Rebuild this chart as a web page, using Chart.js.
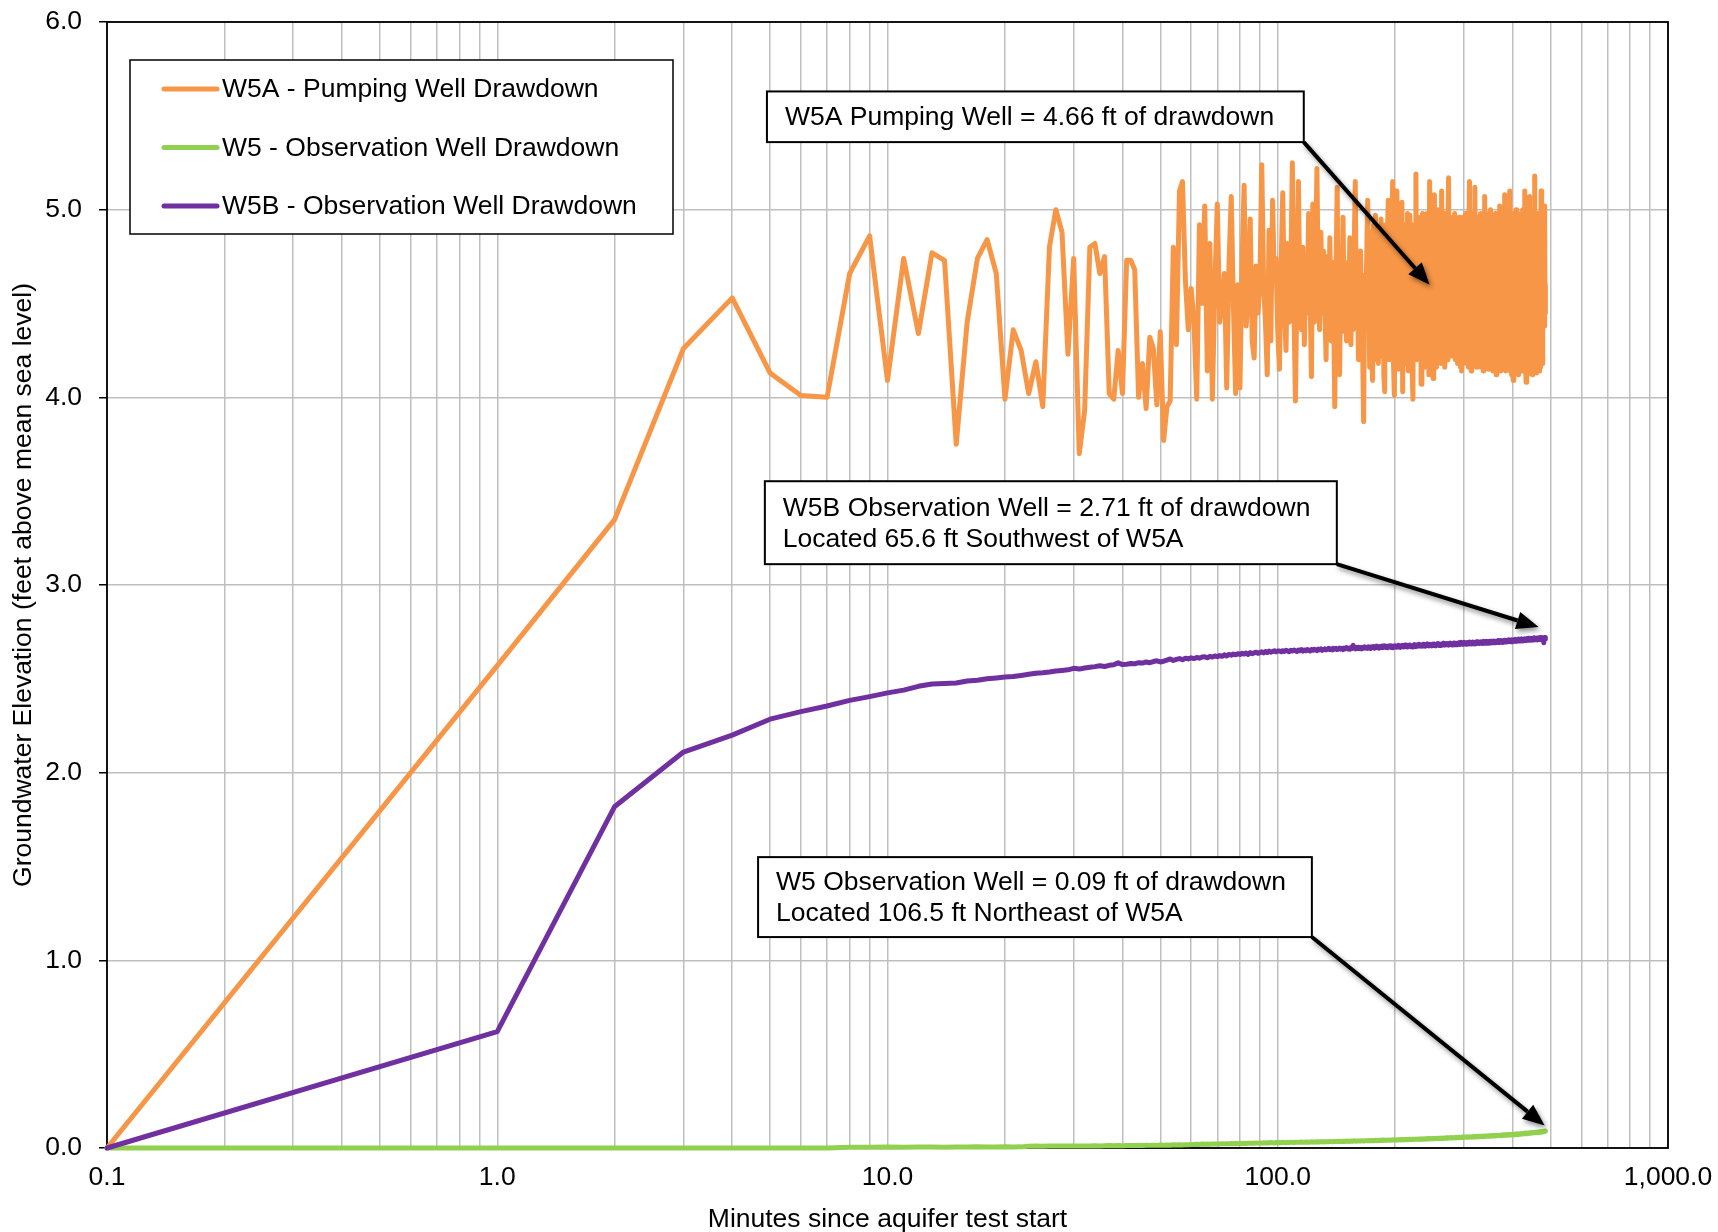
<!DOCTYPE html>
<html><head><meta charset="utf-8">
<script src="https://cdn.jsdelivr.net/npm/chart.js@4.4.1/dist/chart.umd.min.js"></script>
<style>html,body{margin:0;padding:0;background:#fff;}#wrap{width:1718px;height:1232px;}</style>
</head><body><div id="wrap"><canvas id="c" width="1718" height="1232"></canvas></div>
<script>
// Sample times (minutes since aquifer test start)
const minutes = [0.1,
1,2,3,4,5,6,7,8,9,10,11,12,13,14,15,16,17,18,19,20,
21,22,23,24,25,26,27,28,29,30,31,32,33,34,35,36,37,38,39,40,
41,42,43,44,45,46,47,48,49,50,51,52,53,54,55,56,57,58,59,60,
61,62,63,64,65,66,67,68,69,70,71,72,73,74,75,76,77,78,79,80,
81,82,83,84,85,86,87,88,89,90,91,92,93,94,95,96,97,98,99,100,
101,102,103,104,105,106,107,108,109,110,111,112,113,114,115,116,117,118,119,120,
121,122,123,124,125,126,127,128,129,130,131,132,133,134,135,136,137,138,139,140,
141,142,143,144,145,146,147,148,149,150,151,152,153,154,155,156,157,158,159,160,
161,162,163,164,165,166,167,168,169,170,171,172,173,174,175,176,177,178,179,180,
181,182,183,184,185,186,187,188,189,190,191,192,193,194,195,196,197,198,199,200,
201,202,203,204,205,206,207,208,209,210,211,212,213,214,215,216,217,218,219,220,
221,222,223,224,225,226,227,228,229,230,231,232,233,234,235,236,237,238,239,240,
241,242,243,244,245,246,247,248,249,250,251,252,253,254,255,256,257,258,259,260,
261,262,263,264,265,266,267,268,269,270,271,272,273,274,275,276,277,278,279,280,
281,282,283,284,285,286,287,288,289,290,291,292,293,294,295,296,297,298,299,300,
301,302,303,304,305,306,307,308,309,310,311,312,313,314,315,316,317,318,319,320,
321,322,323,324,325,326,327,328,329,330,331,332,333,334,335,336,337,338,339,340,
341,342,343,344,345,346,347,348,349,350,351,352,353,354,355,356,357,358,359,360,
361,362,363,364,365,366,367,368,369,370,371,372,373,374,375,376,377,378,379,380,
381,382,383,384,385,386,387,388,389,390,391,392,393,394,395,396,397,398,399,400,
401,402,403,404,405,406,407,408,409,410,411,412,413,414,415,416,417,418,419,420,
421,422,423,424,425,426,427,428,429,430,431,432,433,434,435,436,437,438,439,440,
441,442,443,444,445,446,447,448,449,450,451,452,453,454,455,456,457,458,459,460,
461,462,463,464,465,466,467,468,469,470,471,472,473,474,475,476,477,478,479,480,
481,482,483,484,485];

// W5A - Pumping Well
const w5aDrawdown = [0,
2.57,3.35,4.26,4.53,4.13,4.01,4.00,4.66,4.86,4.09,
4.74,4.34,4.77,4.73,3.75,4.40,4.74,4.84,4.66,3.99,
4.36,4.25,4.02,4.19,3.95,4.80,5.00,4.88,4.23,4.74,
3.70,3.93,4.80,4.82,4.66,4.75,4.02,3.99,4.25,4.02,
4.73,4.73,4.68,4.00,4.18,3.94,4.32,4.26,3.96,4.35,
3.77,3.95,3.98,4.80,4.28,5.10,5.15,4.62,4.36,4.58,
4.40,3.99,4.92,4.50,5.02,4.14,4.82,3.99,4.60,5.03,
4.40,4.52,4.66,4.05,4.71,5.07,4.48,4.02,4.60,4.05,
4.72,5.13,4.38,4.55,4.95,4.30,4.21,4.70,4.45,4.62,
5.24,4.60,4.40,4.12,4.89,4.30,5.05,4.62,4.74,4.35,
4.15,4.70,5.09,4.48,4.25,4.82,4.40,4.66,5.25,4.50,
3.98,4.60,5.15,4.45,4.36,4.80,4.28,4.70,4.45,4.98,
4.55,4.11,5.03,4.40,4.70,5.22,4.58,4.36,4.88,4.45,
4.78,4.50,4.20,4.75,4.38,4.85,4.30,4.72,4.50,3.95,
4.66,5.12,4.40,4.12,4.60,4.35,4.96,4.42,4.72,4.30,
4.65,4.40,4.85,4.28,4.70,4.36,4.80,5.15,4.45,4.62,
4.20,4.30,4.78,4.48,4.25,3.87,4.65,4.40,4.74,5.05,
4.70,4.16,4.88,4.25,4.09,4.92,4.30,4.97,4.20,4.82,
4.18,4.90,4.22,4.95,4.28,4.85,4.12,4.03,4.92,4.26,
4.88,5.05,4.20,4.94,4.30,4.86,5.15,4.18,4.01,4.96,
5.10,4.22,4.90,4.15,4.86,4.28,4.95,5.04,4.03,4.84,
4.92,4.18,4.88,4.25,4.98,4.14,4.90,4.97,4.22,4.84,
4.15,3.99,4.92,4.26,4.86,5.19,4.20,4.94,4.30,4.88,
4.20,4.96,4.07,4.85,4.98,4.24,4.90,4.16,4.94,4.28,
4.98,4.20,4.88,4.12,5.15,4.26,4.92,4.18,4.96,4.10,
4.86,5.08,4.22,4.94,4.16,4.88,5.00,4.24,4.92,4.21,
4.96,4.18,5.10,4.22,4.90,4.28,4.98,4.16,4.88,4.30,
4.96,4.20,4.92,5.17,4.26,4.33,4.94,4.22,4.90,4.28,
4.96,4.24,4.88,4.98,4.20,4.92,4.26,4.94,4.18,4.90,
4.22,4.96,4.28,4.16,4.92,4.14,4.88,4.24,4.96,4.20,
4.90,4.26,4.98,4.18,4.92,4.22,4.94,4.16,4.88,5.15,
4.24,4.94,4.14,4.90,4.20,4.98,4.18,4.92,4.26,5.12,
4.20,4.94,4.16,4.96,4.22,4.19,4.92,4.18,4.90,4.24,
4.98,4.16,4.92,4.20,4.96,4.14,4.90,4.22,5.07,4.18,
4.94,4.20,4.98,4.16,4.90,4.15,4.96,4.22,4.92,4.18,
5.00,4.16,4.92,4.24,4.96,4.14,4.90,4.20,4.94,4.18,
4.98,4.22,4.12,4.94,4.18,4.98,4.16,4.92,4.22,5.02,
4.18,4.94,4.14,4.96,4.20,4.92,4.16,4.98,4.22,4.90,
5.08,4.18,4.94,4.14,4.92,4.20,4.98,4.16,4.94,4.22,
5.00,4.18,5.10,4.14,4.92,4.20,4.96,4.12,4.90,4.18,
4.09,4.94,4.20,4.98,4.16,4.92,4.22,5.00,4.14,4.90,
4.18,4.98,4.16,4.92,4.12,4.96,4.20,4.90,4.16,4.98,
4.18,4.92,4.14,5.00,4.20,4.94,4.16,4.96,5.10,4.18,
4.94,4.14,4.08,4.98,4.20,4.92,4.12,4.96,4.18,4.94,
4.16,5.07,4.20,4.92,4.14,4.98,4.18,4.90,4.12,4.96,
4.20,4.94,4.16,4.98,5.18,4.18,4.92,4.14,4.96,4.13,
4.94,4.18,4.98,4.16,4.92,4.20,4.96,4.14,4.94,4.20,
4.98,4.16,5.10,4.22,4.92,4.18,4.96,4.37,4.98,4.40,
4.90,4.38,5.02,4.45,4.60];

// W5 - Observation Well
const w5Drawdown = [0,
0,0,0,0,0,0,0,
0.004,0.004,0.005,0.004,0.005,0.005,0.004,0.005,0.005,0.006,0.005,0.005,0.006,0.005,0.006,
0.009,0.01,0.009,0.01,0.01,0.011,0.01,0.011,0.01,0.011,0.011,0.012,0.011,0.012,0.013,0.012,0.013,0.012,
0.013,0.014,0.013,0.014,0.013,0.015,0.014,0.015,0.014,0.016,0.015,0.016,0.015,0.017,0.016,0.017,0.016,0.018,0.017,0.018,
0.019,0.02,0.019,0.021,0.02,0.021,0.02,0.022,0.021,0.022,0.021,0.023,0.022,0.023,0.022,0.024,0.023,0.024,0.023,0.025,
0.024,0.025,0.024,0.026,0.025,0.026,0.025,0.027,0.026,0.027,0.026,0.028,0.027,0.028,0.027,0.029,0.028,0.027,0.029,0.028,
0.029,0.028,0.03,0.029,0.028,0.03,0.029,0.031,0.03,0.029,0.031,0.03,0.031,0.03,0.032,0.031,0.03,0.032,0.031,0.032,
0.031,0.033,0.032,0.031,0.033,0.032,0.033,0.032,0.034,0.033,0.032,0.034,0.033,0.034,0.033,0.035,0.034,0.033,0.035,0.034,
0.035,0.034,0.036,0.035,0.034,0.036,0.035,0.036,0.035,0.037,0.036,0.035,0.037,0.036,0.037,0.036,0.038,0.037,0.036,0.038,
0.037,0.038,0.037,0.039,0.038,0.037,0.039,0.038,0.039,0.038,0.04,0.039,0.038,0.04,0.039,0.04,0.039,0.041,0.04,0.039,
0.041,0.04,0.041,0.04,0.042,0.041,0.04,0.042,0.041,0.042,0.041,0.043,0.042,0.041,0.043,0.042,0.043,0.042,0.044,0.042,
0.043,0.042,0.044,0.043,0.044,0.043,0.045,0.044,0.043,0.045,0.044,0.045,0.044,0.046,0.045,0.044,0.046,0.045,0.046,0.045,
0.047,0.046,0.045,0.047,0.046,0.047,0.046,0.048,0.047,0.046,0.048,0.047,0.048,0.047,0.049,0.048,0.047,0.049,0.048,0.049,
0.048,0.05,0.049,0.048,0.05,0.049,0.05,0.049,0.051,0.05,0.049,0.051,0.05,0.051,0.05,0.052,0.051,0.05,0.052,0.051,
0.052,0.051,0.053,0.052,0.051,0.053,0.052,0.053,0.052,0.054,0.053,0.052,0.054,0.053,0.054,0.053,0.055,0.054,0.053,0.055,
0.054,0.055,0.054,0.056,0.055,0.054,0.056,0.055,0.056,0.055,0.057,0.056,0.055,0.057,0.056,0.057,0.056,0.058,0.057,0.056,
0.058,0.057,0.058,0.057,0.059,0.058,0.057,0.059,0.058,0.059,0.058,0.06,0.059,0.058,0.06,0.059,0.06,0.059,0.061,0.06,
0.059,0.061,0.06,0.061,0.06,0.062,0.061,0.06,0.062,0.061,0.062,0.061,0.063,0.062,0.061,0.063,0.062,0.063,0.062,0.064,
0.063,0.062,0.064,0.063,0.064,0.063,0.065,0.064,0.063,0.065,0.064,0.065,0.064,0.066,0.065,0.064,0.066,0.065,0.066,0.065,
0.067,0.066,0.065,0.067,0.066,0.067,0.066,0.068,0.067,0.066,0.068,0.067,0.068,0.067,0.069,0.068,0.067,0.069,0.068,0.069,
0.068,0.07,0.069,0.068,0.07,0.069,0.07,0.069,0.071,0.07,0.069,0.071,0.07,0.071,0.07,0.072,0.071,0.07,0.072,0.071,
0.072,0.071,0.073,0.072,0.071,0.073,0.072,0.074,0.073,0.072,0.074,0.073,0.075,0.074,0.073,0.075,0.074,0.076,0.075,0.074,
0.076,0.075,0.077,0.076,0.075,0.077,0.076,0.078,0.077,0.076,0.078,0.077,0.079,0.078,0.077,0.079,0.078,0.08,0.079,0.078,
0.08,0.079,0.081,0.08,0.079,0.081,0.08,0.082,0.081,0.08,0.082,0.081,0.083,0.082,0.081,0.083,0.082,0.084,0.083,0.082,
0.084,0.083,0.085,0.084,0.083,0.085,0.084,0.086,0.085,0.084,0.086,0.085,0.087,0.086,0.085,0.087,0.086,0.088,0.087,0.088,
0.089,0.088,0.09,0.089,0.09];

// W5B - Observation Well
const w5bDrawdown = [0,
0.62,1.82,2.11,2.20,2.285,2.325,2.355,2.385,2.405,2.425,
2.44,2.46,2.472,2.475,2.478,2.488,2.492,2.50,2.505,2.51,
2.512,2.518,2.524,2.53,2.532,2.536,2.542,2.545,2.548,2.556,
2.552,2.558,2.562,2.565,2.57,2.566,2.572,2.575,2.585,2.576,
2.578,2.582,2.58,2.586,2.584,2.59,2.586,2.592,2.596,2.59,
2.594,2.60,2.606,2.598,2.604,2.608,2.602,2.61,2.606,2.612,
2.608,2.614,2.61,2.616,2.618,2.612,2.62,2.616,2.622,2.618,
2.624,2.62,2.628,2.622,2.63,2.626,2.632,2.628,2.634,2.63,
2.636,2.632,2.638,2.63,2.64,2.634,2.638,2.642,2.636,2.64,
2.644,2.638,2.646,2.64,2.648,2.642,2.646,2.65,2.644,2.648,
2.648,2.644,2.65,2.646,2.652,2.648,2.644,2.652,2.648,2.654,
2.65,2.646,2.654,2.65,2.656,2.648,2.654,2.65,2.656,2.652,
2.648,2.656,2.652,2.658,2.654,2.65,2.658,2.654,2.66,2.652,
2.656,2.66,2.654,2.658,2.662,2.656,2.66,2.654,2.662,2.658,
2.662,2.656,2.66,2.664,2.658,2.662,2.656,2.664,2.66,2.666,
2.66,2.664,2.658,2.666,2.662,2.678,2.664,2.66,2.666,2.662,
2.668,2.662,2.666,2.66,2.668,2.664,2.67,2.664,2.668,2.662,
2.67,2.666,2.662,2.67,2.666,2.672,2.664,2.668,2.674,2.666,
2.67,2.664,2.672,2.668,2.674,2.666,2.67,2.676,2.668,2.672,
2.666,2.674,2.67,2.676,2.668,2.672,2.666,2.674,2.67,2.676,
2.668,2.674,2.67,2.678,2.672,2.668,2.676,2.672,2.678,2.67,
2.674,2.68,2.672,2.676,2.67,2.678,2.674,2.68,2.672,2.676,
2.67,2.678,2.674,2.682,2.676,2.672,2.68,2.674,2.678,2.684,
2.676,2.68,2.674,2.682,2.678,2.684,2.676,2.68,2.674,2.682,
2.678,2.686,2.68,2.676,2.684,2.678,2.682,2.676,2.684,2.68,
2.686,2.678,2.682,2.676,2.684,2.68,2.688,2.682,2.678,2.686,
2.68,2.684,2.678,2.686,2.682,2.69,2.684,2.68,2.686,2.682,
2.688,2.682,2.686,2.68,2.688,2.684,2.69,2.682,2.686,2.68,
2.688,2.684,2.69,2.686,2.682,2.69,2.684,2.688,2.682,2.69,
2.686,2.692,2.684,2.688,2.694,2.686,2.69,2.684,2.692,2.688,
2.694,2.686,2.69,2.684,2.692,2.688,2.694,2.686,2.69,2.696,
2.688,2.692,2.686,2.694,2.69,2.696,2.688,2.692,2.686,2.694,
2.69,2.696,2.688,2.692,2.698,2.69,2.694,2.688,2.696,2.692,
2.698,2.69,2.694,2.688,2.696,2.692,2.7,2.692,2.696,2.69,
2.698,2.694,2.7,2.692,2.696,2.69,2.698,2.694,2.7,2.696,
2.692,2.7,2.694,2.698,2.692,2.7,2.696,2.702,2.694,2.698,
2.692,2.7,2.696,2.702,2.694,2.698,2.704,2.696,2.7,2.694,
2.702,2.698,2.704,2.696,2.7,2.694,2.702,2.698,2.704,2.696,
2.7,2.706,2.698,2.702,2.696,2.704,2.7,2.706,2.698,2.702,
2.708,2.7,2.704,2.698,2.706,2.702,2.708,2.7,2.704,2.698,
2.706,2.702,2.708,2.7,2.704,2.71,2.702,2.706,2.7,2.708,
2.704,2.71,2.702,2.706,2.712,2.704,2.708,2.702,2.71,2.706,
2.712,2.704,2.708,2.702,2.71,2.706,2.712,2.704,2.708,2.714,
2.706,2.71,2.704,2.712,2.708,2.714,2.706,2.71,2.716,2.708,
2.712,2.706,2.714,2.71,2.716,2.708,2.712,2.706,2.714,2.71,
2.716,2.708,2.712,2.718,2.71,2.714,2.708,2.716,2.712,2.718,
2.71,2.714,2.708,2.716,2.712,2.718,2.71,2.714,2.72,2.712,
2.716,2.71,2.718,2.714,2.72,2.712,2.716,2.71,2.718,2.692,
2.712,2.718,2.714,2.72,2.712];

const seriesLabels = ['W5A - Pumping Well Drawdown','W5 - Observation Well Drawdown','W5B - Observation Well Drawdown'];
const seriesColors = ['#F79646','#92D050','#7030A0'];

const xGridValues = [0.1,0.2,0.3,0.4,0.5,0.6,0.7,0.8,0.9,1,2,3,4,5,6,7,8,9,10,20,30,40,50,60,70,80,90,100,200,300,400,500,600,700,800,900,1000];
const xTickValues = [0.1,1,10,100,1000];
const xTickLabels = ['0.1','1.0','10.0','100.0','1,000.0'];
const yTickLabels = ['0.0','1.0','2.0','3.0','4.0','5.0','6.0'];

const xAxisTitle = 'Minutes since aquifer test start';
const yAxisTitle = 'Groundwater Elevation (feet above mean sea level)';

const calloutNotes = [
  {lines:['W5A Pumping Well = 4.66 ft of drawdown'], left:4.91, right:116.6, top:5.63, bottom:5.36, tipX:245, tipY:4.60},
  {lines:['W5B Observation Well = 2.71 ft of drawdown','Located 65.6 ft Southwest of W5A'], left:4.85, right:141.7, top:3.553, bottom:3.111, tipX:466, tipY:2.776},
  {lines:['W5 Observation Well = 0.09 ft of drawdown','Located 106.5 ft Northeast of W5A'], left:4.66, right:122.3, top:1.55, bottom:1.124, tipX:483, tipY:0.12}
];

const FONT_FAMILY = '"Liberation Sans", Arial, Helvetica, sans-serif';
const FONT_SIZE = 26.5;

function toPoints(arr){
  return minutes.map((m,i)=>({x:m, y:arr[i]})).filter(p=>p.y!==undefined);
}

const framePlugin = {
  id:'frame',
  beforeDatasetsDraw(chart){
    const {ctx, chartArea:a} = chart;
    ctx.save();
    ctx.strokeStyle = '#000';
    ctx.lineWidth = 1.8;
    ctx.strokeRect(a.left, a.top, a.right-a.left, a.bottom-a.top);
    ctx.restore();
  }
};

const legendPlugin = {
  id:'boxLegend',
  afterDatasetsDraw(chart){
    const {ctx, chartArea:a} = chart;
    const x = a.left + 23, y = a.top + 38, w = 543, h = 174;
    ctx.save();
    ctx.fillStyle = '#fff'; ctx.fillRect(x,y,w,h);
    ctx.strokeStyle = '#000'; ctx.lineWidth = 1.5; ctx.strokeRect(x,y,w,h);
    ctx.font = FONT_SIZE + 'px ' + FONT_FAMILY;
    ctx.textBaseline = 'middle';
    chart.data.datasets.forEach((ds,i)=>{
      const cy = y + 29 + i*58.5;
      ctx.strokeStyle = ds.borderColor; ctx.lineWidth = 5; ctx.lineCap = 'round';
      ctx.beginPath(); ctx.moveTo(x+34, cy); ctx.lineTo(x+87, cy); ctx.stroke();
      ctx.fillStyle = '#000';
      ctx.fillText(ds.label, x+92, cy+1);
    });
    ctx.restore();
  }
};

const calloutPlugin = {
  id:'callouts',
  afterDraw(chart){
    const {ctx} = chart;
    const xs = chart.scales.x, ys = chart.scales.y;
    calloutNotes.forEach(n=>{
      const l = xs.getPixelForValue(n.left), r = xs.getPixelForValue(n.right);
      const t = ys.getPixelForValue(n.top), b = ys.getPixelForValue(n.bottom);
      ctx.save();
      ctx.fillStyle = '#fff'; ctx.fillRect(l,t,r-l,b-t);
      ctx.strokeStyle = '#000'; ctx.lineWidth = 2; ctx.strokeRect(l,t,r-l,b-t);
      ctx.font = FONT_SIZE + 'px ' + FONT_FAMILY;
      ctx.fillStyle = '#000'; ctx.textBaseline = 'middle';
      const cy = (t+b)/2, gap = 31;
      n.lines.forEach((line,i)=>{
        const yy = cy + (i - (n.lines.length-1)/2)*gap;
        ctx.fillText(line, l+18, yy+1);
      });
      // arrow
      const tx = xs.getPixelForValue(n.tipX), ty = ys.getPixelForValue(n.tipY);
      const dx = tx - r, dy = ty - b, len = Math.hypot(dx,dy);
      const ux = dx/len, uy = dy/len;
      const head = 22, hw = 9;
      const bx = tx - ux*head, by = ty - uy*head;
      ctx.shadowColor = 'rgba(0,0,0,0.45)';
      ctx.shadowBlur = 5; ctx.shadowOffsetX = 2; ctx.shadowOffsetY = 3;
      ctx.strokeStyle = '#000'; ctx.lineWidth = 4; ctx.lineCap = 'butt';
      ctx.beginPath(); ctx.moveTo(r,b); ctx.lineTo(bx,by); ctx.stroke();
      ctx.fillStyle = '#000';
      ctx.beginPath();
      ctx.moveTo(tx,ty);
      ctx.lineTo(bx - uy*hw, by + ux*hw);
      ctx.lineTo(bx + uy*hw, by - ux*hw);
      ctx.closePath(); ctx.fill();
      ctx.restore();
    });
  }
};

const allSeries = [w5aDrawdown, w5Drawdown, w5bDrawdown];
const drawOrder = [3, 2, 1];

new Chart(document.getElementById('c'), {
  type:'line',
  data:{
    datasets: allSeries.map((arr,i)=>({
      label: seriesLabels[i],
      data: toPoints(arr),
      borderColor: seriesColors[i],
      backgroundColor: seriesColors[i],
      borderWidth: 5,
      pointRadius: 0,
      tension: 0,
      fill: false,
      clip: false,
      borderJoinStyle: 'round',
      borderCapStyle: 'round',
      order: drawOrder[i]
    }))
  },
  options:{
    responsive:false,
    animation:false,
    devicePixelRatio:1,
    layout:{padding:{top:22,right:50,left:0,bottom:0}},
    plugins:{legend:{display:false}, tooltip:{enabled:false}},
    scales:{
      x:{
        type:'logarithmic', min:0.1, max:1000,
        afterBuildTicks(scale){ scale.ticks = xGridValues.map(v=>({value:v})); },
        afterFit(scale){ scale.height = 84; scale.paddingLeft = 0; scale.paddingRight = 0; },
        border:{display:false},
        grid:{color:'#BFBFBF', lineWidth:1.5, drawTicks:false},
        ticks:{
          autoSkip:false, maxRotation:0, minRotation:0, padding:14,
          color:'#000', font:{family:FONT_FAMILY, size:FONT_SIZE},
          callback(value){
            const k = xTickValues.findIndex(v=>Math.abs(v-value)/v < 1e-6);
            return k >= 0 ? xTickLabels[k] : '';
          }
        },
        title:{display:true, text:xAxisTitle, color:'#000', font:{family:FONT_FAMILY, size:FONT_SIZE}, padding:{top:0,bottom:-4}}
      },
      y:{
        min:0, max:6,
        afterFit(scale){ scale.width = 107; scale.paddingTop = 0; scale.paddingBottom = 0; },
        border:{display:false},
        grid:{color:'#BFBFBF', lineWidth:1.5, drawTicks:true, tickLength:8, tickColor:'#000', tickWidth:1.5},
        ticks:{
          stepSize:1, padding:17, color:'#000', font:{family:FONT_FAMILY, size:FONT_SIZE},
          callback(value){ return yTickLabels[Math.round(value)]; }
        },
        title:{display:true, text:yAxisTitle, color:'#000', font:{family:FONT_FAMILY, size:FONT_SIZE}, padding:{top:8,bottom:0}}
      }
    }
  },
  plugins:[framePlugin, legendPlugin, calloutPlugin]
});
</script></body></html>
